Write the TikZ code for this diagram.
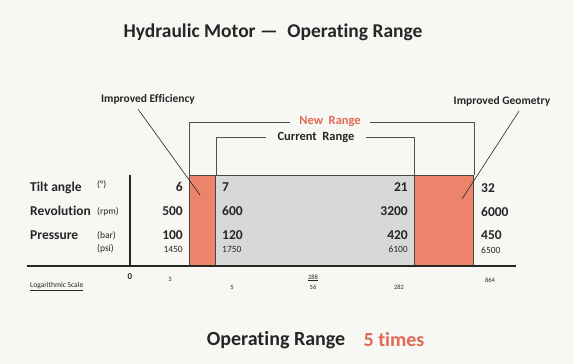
\documentclass[tikz,border=0pt]{standalone}
\usepackage{fontspec}
\setmainfont{Carlito}[Ligatures=NoCommon]
\definecolor{bg}{RGB}{247,247,244}
\definecolor{salmon}{RGB}{236,132,108}
\definecolor{boxgray}{RGB}{216,216,214}
\definecolor{ink}{RGB}{38,38,38}
\definecolor{redtxt}{RGB}{226,104,84}
\begin{document}
\begin{tikzpicture}[x=1pt,y=-1pt,
  every node/.style={inner sep=0pt, text=ink},
  lbl/.style={font=\bfseries\fontsize{13.5}{15}\selectfont},
  unit/.style={font=\fontsize{9.5}{11}\selectfont},
  val/.style={font=\bfseries\fontsize{13.5}{15}\selectfont},
  sval/.style={font=\fontsize{9.5}{11}\selectfont},
  tiny/.style={font=\fontsize{6.5}{7}\selectfont},
  boxline/.style={draw=ink!85, line width=0.9pt},
  brack/.style={draw=ink!80, line width=0.8pt},
  leader/.style={draw=ink, line width=0.6pt},
  note/.style={font=\bfseries\fontsize{11.5}{13}\selectfont}]
\fill[bg] (0,0) rectangle (573,364);
\useasboundingbox (0,0) rectangle (573,364);

% title
\node[font=\bfseries\fontsize{19.5}{22}\selectfont] (title) at (273,32) {Hydraulic Motor —\enspace Operating Range};

% boxes
\draw[boxline, fill=salmon] (189,175) rectangle (215,265);
\draw[boxline, fill=boxgray] (215,175) rectangle (414,265);
\draw[boxline, fill=salmon] (414,175) rectangle (473,265);

% axes
\draw[line width=1.6pt, ink] (27,266) -- (516,266);
\draw[line width=1.4pt, ink] (130,175) -- (130,266);

% brackets
\node[font=\bfseries\fontsize{12.5}{14}\selectfont, text=redtxt, inner xsep=9pt] (newr) at (330,122) {New\ \ Range};
\draw[brack] (189,175) |- (newr.west);
\draw[brack] (newr.east) -| (474,175);
\node[font=\bfseries\fontsize{12.5}{14}\selectfont, inner xsep=11pt] (curr) at (316,137) {Current\ \ Range};
\draw[brack] (216,175) |- (curr.west);
\draw[brack] (curr.east) -| (414,175);

% notes
\node[note] (ie) at (148,99) {Improved Efficiency};
\coordinate (iept) at (200,195);
\draw[leader] ([xshift=-10pt, yshift=-5pt]ie.south) -- (iept);
\node[note] (ig) at (502,101) {Improved Geometry};
\coordinate (igpt) at (462,199);
\draw[leader] ([xshift=17pt, yshift=-5pt]ig.south) -- (igpt);

% row labels
\node[lbl, anchor=base west] (l1) at (30,191) {Tilt angle};
\node[lbl, anchor=base west] (l2) at (30,215) {Revolution};
\node[lbl, anchor=base west] (l3) at (30,239) {Pressure};
\node[unit, anchor=base west] (u1) at (97,187) {(°)};
\node[unit, anchor=base west] (u2) at (97,214) {(rpm)};
\node[unit, anchor=base west] (u3) at (97,238) {(bar)};
\node[unit, anchor=base west] (u4) at (97,251) {(psi)};

% values column 1
\node[val, anchor=base east] (a1) at (183,191) {6};
\node[val, anchor=base east] (a2) at (183,215) {500};
\node[val, anchor=base east] (a3) at (183,239) {100};
\node[sval, anchor=base east] (a4) at (183,252) {1450};
% column 2
\node[val, anchor=base west] (b1) at (222,191) {7};
\node[val, anchor=base west] (b2) at (222,215) {600};
\node[val, anchor=base west] (b3) at (222,239) {120};
\node[sval, anchor=base west] (b4) at (222,252) {1750};
% column 3
\node[val, anchor=base east] (c1) at (408,191) {21};
\node[val, anchor=base east] (c2) at (408,215) {3200};
\node[val, anchor=base east] (c3) at (408,239) {420};
\node[sval, anchor=base east] (c4) at (408,252) {6100};
% column 4
\node[val, anchor=base west] (d1) at (481,192) {32};
\node[val, anchor=base west] (d2) at (481,216) {6000};
\node[val, anchor=base west] (d3) at (481,239) {450};
\node[sval, anchor=base west] (d4) at (481,253) {6500};

% scale
\node[font=\bfseries\fontsize{9}{10}\selectfont] (s0) at (130,277) {0};
\node[tiny] (s3) at (170,279) {3};
\node[tiny] (s5) at (232,287) {5};
\node[tiny] (s288) at (313,278) {\underline{288}};
\node[tiny] (s56) at (313,287) {56};
\node[tiny] (s282) at (399,287) {282};
\node[tiny] (s864) at (490,280) {864};
\node[font=\fontsize{7.5}{9}\selectfont, anchor=west] (log) at (30,287) {\underline{Logarithmic Scale}};

% bottom
\node[font=\bfseries\fontsize{20}{24}\selectfont] (op) at (276,340) {Operating Range};
\node[font=\bfseries\fontsize{20}{24}\selectfont, text=redtxt] (times) at (394,340) {5 times};
\end{tikzpicture}
\end{document}
